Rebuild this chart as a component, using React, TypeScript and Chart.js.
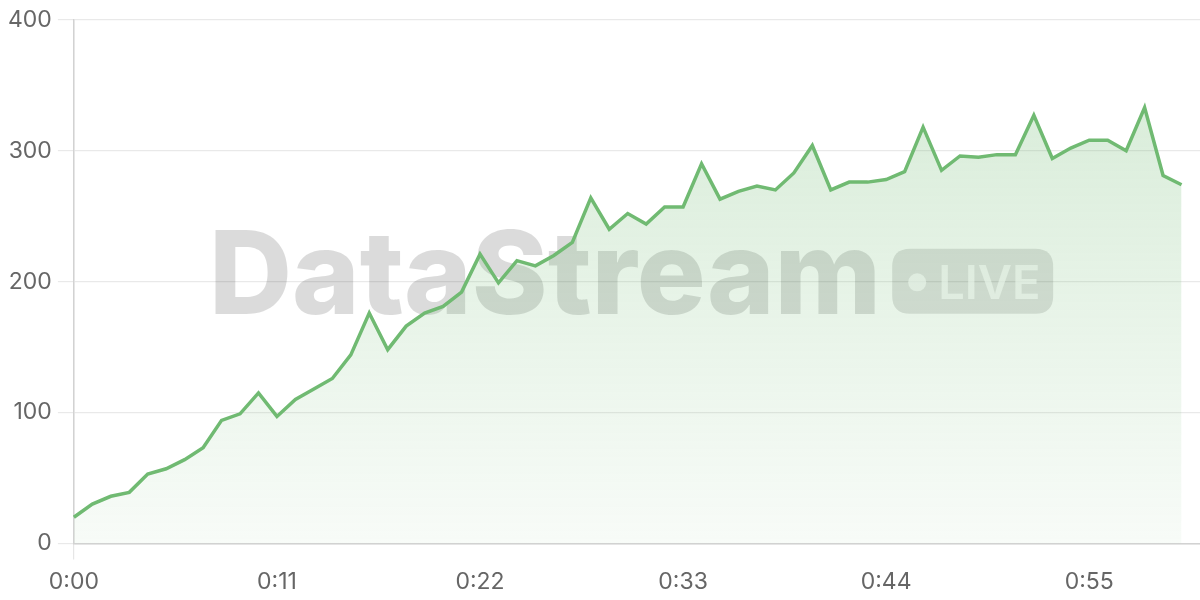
import React, { useEffect, useRef } from "react";
import { Chart, registerables } from "chart.js";

Chart.register(...registerables);

// x categories: elapsed seconds (axis runs one step past the last sample)
const SECONDS: number[] = Array.from({ length: 62 }, (_, i) => i);
const TIME_LABELS: string[] = SECONDS.map(
  (s) => `${Math.floor(s / 60)}:${String(s % 60).padStart(2, "0")}`
);
const LABEL_EVERY = 11;

// series values
const VALUES: number[] = [
  20, 30, 36, 39, 53, 57, 64, 73, 94, 99,
  115, 97, 110, 118, 126, 144, 176, 148, 166, 176,
  181, 192, 221, 199, 216, 212, 220, 230, 264, 240,
  252, 244, 257, 257, 290, 263, 269, 273, 270, 283,
  304, 270, 276, 276, 278, 284, 318, 285, 296, 295,
  297, 297, 327, 294, 302, 308, 308, 300, 333, 281,
  274,
];

const Y_MIN = 0;
const Y_MAX = 400;
const Y_STEP = 100;

const WATERMARK_TEXT = "DataStream";
const BADGE_TEXT = "LIVE";

const FONT = "Inter, 'Noto Sans', sans-serif";

function roundRectPath(c: CanvasRenderingContext2D, x: number, y: number, w: number, h: number, r: number) {
  c.beginPath();
  c.moveTo(x + r, y);
  c.lineTo(x + w - r, y);
  c.quadraticCurveTo(x + w, y, x + w, y + r);
  c.lineTo(x + w, y + h - r);
  c.quadraticCurveTo(x + w, y + h, x + w - r, y + h);
  c.lineTo(x + r, y + h);
  c.quadraticCurveTo(x, y + h, x, y + h - r);
  c.lineTo(x, y + r);
  c.quadraticCurveTo(x, y, x + r, y);
  c.closePath();
}

const watermarkPlugin = {
  id: "watermark",
  beforeDatasetsDraw(chart: any) {
    const c: CanvasRenderingContext2D = chart.ctx;
    const area = chart.chartArea;
    const left = area.left + 135;
    const baseline = area.top + 294;
    c.save();
    c.font = `800 115px ${FONT}`;
    c.textBaseline = "alphabetic";
    c.textAlign = "left";
    c.fillStyle = "rgba(0,0,0,0.14)";
    c.fillText(WATERMARK_TEXT, left, baseline);
    const tw = c.measureText(WATERMARK_TEXT).width;

    // badge
    const bx = left + tw + 11;
    const by = baseline - 65;
    const bw = 161;
    const bh = 65;
    roundRectPath(c, bx, by, bw, bh, 18);
    c.fillStyle = "rgba(0,0,0,0.12)";
    c.fill();
    c.fillStyle = "rgba(255,255,255,0.72)";
    c.beginPath();
    c.arc(bx + 25, by + bh / 2 + 1, 9, 0, Math.PI * 2);
    c.fill();
    c.font = `600 47px ${FONT}`;
    c.fillText(BADGE_TEXT, bx + 46, by + bh - 15);
    c.restore();
  },
};

export default function App() {
  const ref = useRef<HTMLCanvasElement | null>(null);

  useEffect(() => {
    document.body.style.margin = "0";
    const canvas = ref.current;
    if (!canvas) return;
    const chart = new Chart(canvas, {
      type: "line",
      data: {
        labels: TIME_LABELS,
        datasets: [
          {
            data: VALUES,
            borderColor: "rgb(112,186,114)",
            borderWidth: 3.5,
            pointRadius: 0,
            tension: 0,
            fill: "origin",
            backgroundColor: (ctx: any) => {
              const { chart } = ctx;
              const area = chart.chartArea;
              if (!area) return "rgba(112,186,114,0.15)";
              const g = chart.ctx.createLinearGradient(0, area.top, 0, area.bottom);
              g.addColorStop(0, "rgba(112,186,114,0.30)");
              g.addColorStop(1, "rgba(112,186,114,0.05)");
              return g;
            },
          },
        ],
      },
      options: {
        animation: false,
        responsive: false,
        maintainAspectRatio: false,
        layout: { padding: { left: 2, top: 2, right: 0, bottom: -5 } },
        plugins: {
          legend: { display: false },
          tooltip: { enabled: false },
        },
        scales: {
          x: {
            offset: false,
            border: { color: "#d2d2d2", width: 1.5 },
            grid: {
              color: (ctx: any) =>
                ctx.index % LABEL_EVERY === 0 ? "#e6e6e6" : "rgba(0,0,0,0)",
              tickLength: 16,
              lineWidth: 1.2,
            },
            ticks: {
              autoSkip: false,
              maxRotation: 0,
              padding: 9,
              color: "#666",
              font: { family: FONT, size: 23 },
              callback: (_v: any, i: number) =>
                i % LABEL_EVERY === 0 ? TIME_LABELS[i] : null,
            },
          },
          y: {
            min: Y_MIN,
            max: Y_MAX,
            border: { color: "#d2d2d2", width: 1.5 },
            grid: { color: "#e9e9e9", tickLength: 16, lineWidth: 1.2 },
            ticks: {
              stepSize: Y_STEP,
              padding: 6,
              color: "#666",
              font: { family: FONT, size: 23 },
            },
          },
        },
      },
      plugins: [watermarkPlugin],
    });
    return () => chart.destroy();
  }, []);

  return (
    <div style={{ width: 1200, height: 600 }}>
      <canvas ref={ref} width={1200} height={600} />
    </div>
  );
}
